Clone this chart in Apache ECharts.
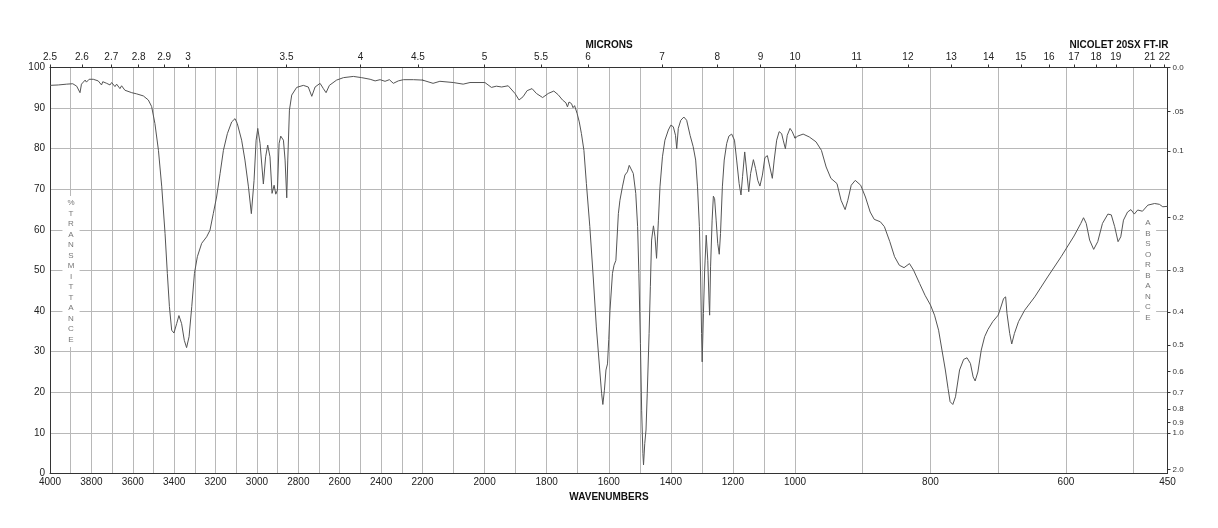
<!DOCTYPE html>
<html>
<head>
<meta charset="utf-8">
<title>FT-IR spectrum</title>
<script src="https://cdn.jsdelivr.net/npm/echarts@6/dist/echarts.min.js"></script>
<style>
  html, body { margin: 0; padding: 0; background: #fff; }
  #chart { width: 1218px; height: 528px; }
</style>
</head>
<body>
<div id="chart"></div>
<script>
// spectrum, 4000 -> 2200 cm-1
const wnHigh = [4000, 3960, 3919, 3890, 3871, 3855, 3848, 3839, 3830, 3824, 3811, 3791, 3767, 3751, 3745, 3726, 3710, 3702, 3686, 3678,
  3662, 3654, 3638, 3630, 3605, 3581, 3549, 3525, 3509, 3493, 3476, 3460, 3444, 3433, 3423, 3412, 3401, 3388, 3377, 3364,
  3351, 3340, 3328, 3315, 3302, 3288, 3267, 3243, 3227, 3211, 3195, 3178, 3162, 3143, 3122, 3106, 3095, 3074, 3058, 3041,
  3027, 3014, 3004, 2996, 2985, 2969, 2958, 2948, 2937, 2927, 2917, 2909, 2901, 2893, 2885, 2872, 2864, 2856, 2851, 2843,
  2832, 2808, 2776, 2752, 2735, 2719, 2695, 2679, 2666, 2650, 2615, 2582, 2534, 2494, 2453, 2429, 2405, 2381, 2360, 2341,
  2317, 2292, 2244, 2200];
const tHigh = [95.6, 95.7, 95.9, 96.0, 95.4, 93.8, 95.9, 96.3, 96.9, 96.4, 97.1, 97.1, 96.7, 95.7, 96.5, 96.1, 95.7, 96.3, 95.3, 95.9,
  94.8, 95.5, 94.4, 94.8, 93.8, 93.5, 93.0, 92.0, 90.4, 86.2, 79.6, 70.6, 59.1, 49.3, 41.1, 35.3, 34.6, 36.9, 38.9, 36.9,
  32.8, 31.0, 33.7, 41.1, 49.3, 53.4, 56.7, 58.3, 59.9, 64.0, 68.1, 73.9, 79.6, 83.7, 86.6, 87.4, 86.2, 82.1, 77.2, 70.6,
  64.0, 72.2, 82.1, 85.0, 81.3, 71.3, 78.0, 80.9, 78.0, 69.0, 71.0, 68.8, 69.8, 81.3, 83.1, 82.1, 77.2, 67.9, 77.2, 89.5,
  93.2, 95.1, 95.6, 95.2, 92.9, 95.2, 96.1, 94.8, 93.8, 95.6, 96.9, 97.5, 97.8, 97.5, 97.1, 96.7, 97.0, 96.6, 97.0, 96.1,
  96.7, 97.0, 97.0, 96.9];

// 2200 -> 1000 cm-1
const wnMid = [2166, 2144, 2101, 2069, 2047, 1999, 1978, 1962, 1945, 1924, 1902, 1889, 1876, 1863, 1847, 1833, 1813, 1795, 1777, 1763,
  1749, 1738, 1733, 1728, 1720, 1715, 1710, 1702, 1695, 1688, 1680, 1672, 1661, 1650, 1640, 1629, 1623, 1619, 1614, 1609,
  1604, 1600, 1596, 1588, 1583, 1577, 1569, 1564, 1556, 1548, 1540, 1534, 1528, 1521, 1513, 1507, 1503, 1498, 1494, 1490,
  1488, 1484, 1480, 1476, 1470, 1466, 1462, 1456, 1451, 1446, 1440, 1435, 1427, 1419, 1408, 1400, 1392, 1385, 1381, 1376,
  1368, 1358, 1349, 1338, 1328, 1320, 1314, 1308, 1304, 1301, 1299, 1295, 1291, 1286, 1281, 1277, 1275, 1272, 1267, 1263,
  1259, 1254, 1249, 1244, 1240, 1234, 1228, 1220, 1213, 1204, 1195, 1188, 1180, 1174, 1169, 1162, 1157, 1149, 1143, 1134,
  1127, 1120, 1113, 1105, 1097, 1089, 1081, 1073, 1067, 1059, 1051, 1043, 1038, 1031, 1025, 1016, 1009, 1000];
const tMid = [96.1, 96.6, 96.3, 95.9, 96.3, 96.3, 95.1, 95.4, 95.2, 95.5, 93.6, 92.0, 92.8, 94.3, 94.8, 93.6, 92.6, 93.6, 94.2, 93.3,
  92.0, 91.3, 90.3, 91.5, 91.1, 90.1, 90.6, 88.7, 86.6, 83.7, 79.6, 71.4, 60.8, 48.4, 36.1, 25.5, 19.7, 17.0, 20.5, 25.5,
  27.0, 33.0, 40.2, 49.3, 51.3, 52.5, 64.0, 67.3, 70.6, 73.5, 74.3, 75.9, 76.2, 73.9, 69.0, 60.8, 49.3, 32.0, 15.6, 4.9,
  2.1, 7.4, 10.7, 19.7, 34.5, 46.0, 57.5, 61.0, 58.3, 53.0, 62.4, 70.6, 78.0, 82.1, 84.6, 85.8, 85.4, 83.3, 80.0, 85.0,
  87.0, 87.8, 87.0, 83.3, 80.5, 77.2, 70.6, 60.8, 48.4, 34.5, 27.5, 39.4, 50.1, 58.7, 52.5, 42.7, 39.0, 50.9, 62.4, 68.3,
  67.7, 62.4, 56.7, 54.0, 59.1, 70.6, 77.2, 81.3, 83.1, 83.6, 82.1, 77.2, 71.4, 68.6, 73.1, 79.2, 75.5, 69.4, 73.9, 77.3,
  75.1, 72.2, 70.8, 73.5, 77.8, 78.3, 75.5, 72.7, 77.2, 82.1, 84.2, 83.7, 82.1, 80.0, 83.3, 85.0, 84.2, 82.6];

// 1000 -> 450 cm-1
const wnLow = [996, 988, 979, 969, 961, 954, 947, 938, 932, 926, 922, 917, 911, 903, 896, 889, 883, 874, 868, 860,
  853, 846, 839, 831, 825, 816, 808, 800, 794, 788, 783, 778, 774, 771, 767, 763, 757, 751, 746, 741,
  737, 734, 730, 725, 720, 715, 708, 700, 695, 692, 689, 687, 683, 680, 676, 670, 661, 646, 627, 607,
  588, 578, 574, 570, 565, 559, 553, 546, 538, 533, 528, 523, 519, 515, 509, 504, 499, 494, 487, 479,
  469, 462, 457, 450];
const tLow = [83.1, 83.6, 82.9, 81.7, 79.6, 75.5, 72.7, 71.4, 67.3, 65.0, 67.3, 71.0, 72.2, 71.0, 68.1, 64.4, 62.6, 62.0, 60.8, 57.1,
  53.4, 51.3, 50.7, 51.7, 50.1, 46.8, 43.9, 41.5, 39.0, 35.3, 30.4, 25.5, 20.9, 17.7, 17.0, 18.9, 25.5, 28.1, 28.5, 27.1,
  23.8, 22.8, 25.0, 30.4, 33.7, 35.5, 37.4, 39.0, 41.5, 43.1, 43.5, 39.4, 34.5, 31.9, 34.5, 37.4, 40.2, 43.5, 48.4, 53.4,
  58.5, 61.6, 63.0, 61.6, 57.5, 55.2, 57.1, 61.6, 63.9, 63.7, 60.8, 57.1, 58.3, 62.4, 64.4, 65.0, 63.9, 64.9, 64.6, 66.1,
  66.5, 66.3, 65.7, 65.8];

// axis tick labels
const wnLabelsHigh = [4000, 3800, 3600, 3400, 3200, 3000, 2800, 2600, 2400, 2200];
const wnLabelsMid = [2000, 1800, 1600, 1400, 1200, 1000];
const wnLabelsLow = [800, 600, 450];
const micronTicks = [2.5, 2.6, 2.7, 2.8, 2.9, 3, 3.5, 4, 4.5, 5, 5.5, 6, 7, 8, 9, 10, 11, 12, 13, 14, 15, 16, 17, 18, 19, 21, 22];
const absTicks = [0, 0.05, 0.1, 0.2, 0.3, 0.4, 0.5, 0.6, 0.7, 0.8, 0.9, 1.0, 2.0];
const absLabels = ['0.0', '.05', '0.1', '0.2', '0.3', '0.4', '0.5', '0.6', '0.7', '0.8', '0.9', '1.0', '2.0'];

const FONT = '"Liberation Sans", Arial, sans-serif';
const AXIS = '#333';
const GRIDLINE = '#b8b8b8';

const wnAll = wnHigh.concat(wnMid, wnLow);
const tAll = tHigh.concat(tMid, tLow);

// the wavenumber scale changes at 2200 and 1000, so three grids side by side
const segs = [
  { lo: 2200, hi: 4000, left: 50, labels: wnLabelsHigh },
  { lo: 1000, hi: 2200, left: 422.5, labels: wnLabelsMid },
  { lo: 450, hi: 1000, left: 795, labels: wnLabelsLow }
];

function inSeg(w, s) { return w >= s.lo && w <= s.hi; }

function segData(s) {
  const out = [];
  for (let i = 0; i < wnAll.length; i++) {
    const keep = inSeg(wnAll[i], s) ||
      (i > 0 && inSeg(wnAll[i - 1], s)) ||
      (i + 1 < wnAll.length && inSeg(wnAll[i + 1], s));
    if (keep) out.push([wnAll[i], tAll[i]]);
  }
  return out;
}

function gridLines(s) {
  const out = [];
  for (let v = Math.ceil(s.lo / 100) * 100; v <= s.hi; v += 100) out.push(v);
  return out;
}

const used = {};
function micronsFor(s) {
  const out = [];
  micronTicks.forEach(m => {
    const w = 10000 / m;
    if (!used[m] && w >= s.lo - 1e-6 && w <= s.hi + 1e-6) { used[m] = true; out.push(w); }
  });
  return out;
}

const absT = absTicks.map(a => 100 * Math.pow(10, -a));

const labelStyle = { fontFamily: FONT, fontSize: 10, color: '#222' };

let grids = [], xAxes = [], yAxes = [], series = [];

segs.forEach((s, i) => {
  grids.push({ left: s.left, top: 67.5, width: 372.5, height: 406, outerBoundsMode: 'none', containLabel: false });
  xAxes.push({
    type: 'value', gridIndex: i, position: 'bottom', inverse: true, min: s.lo, max: s.hi,
    axisLine: { show: true, onZero: false, lineStyle: { color: AXIS, width: 1 } },
    axisTick: { show: false, customValues: gridLines(s) },
    axisLabel: Object.assign({ customValues: s.labels, margin: 4, formatter: v => String(v) }, labelStyle),
    splitLine: { show: true, lineStyle: { color: GRIDLINE, width: 1 } }
  });
});

segs.forEach((s, i) => {
  const mic = micronsFor(s);
  xAxes.push({
    type: 'value', gridIndex: i, position: 'top', inverse: true, min: s.lo, max: s.hi,
    axisLine: { show: true, onZero: false, lineStyle: { color: AXIS, width: 1 } },
    axisTick: { show: true, inside: false, length: 3, customValues: mic, lineStyle: { color: AXIS } },
    axisLabel: Object.assign({ customValues: mic, margin: 5, formatter: v => String(+(10000 / v).toFixed(1)) }, labelStyle),
    splitLine: { show: false }
  });
});

segs.forEach((s, i) => {
  yAxes.push({
    type: 'value', gridIndex: i, position: 'left', min: 0, max: 100, interval: 10,
    axisLine: { show: i === 0, onZero: false, lineStyle: { color: AXIS, width: 1 } },
    axisTick: { show: false },
    axisLabel: Object.assign({ show: i === 0, margin: 5 }, labelStyle),
    splitLine: { show: true, lineStyle: { color: GRIDLINE, width: 1 } }
  });
  series.push({
    type: 'line', xAxisIndex: i, yAxisIndex: i, data: segData(s),
    showSymbol: false, symbol: 'none', clip: true, silent: true, z: 3,
    lineStyle: { color: '#555', width: 1 }
  });
});

yAxes.push({
  type: 'value', gridIndex: 2, position: 'right', min: 0, max: 100,
  axisLine: { show: true, onZero: false, lineStyle: { color: AXIS, width: 1 } },
  axisTick: { show: true, inside: false, length: 3, customValues: absT, lineStyle: { color: AXIS } },
  axisLabel: {
    customValues: absT, margin: 5, fontFamily: FONT, fontSize: 8, color: '#333',
    formatter: v => {
      let best = 0;
      absT.forEach((t, k) => { if (Math.abs(t - v) < Math.abs(absT[best] - v)) best = k; });
      return absLabels[best];
    }
  },
  splitLine: { show: false }
});

function vertText(str, x, y) {
  return {
    type: 'text', x: x, y: y, z: 1,
    style: {
      text: str.split('').join('\n'), font: '8px ' + FONT, fill: '#777', lineHeight: 10.5,
      align: 'center', textAlign: 'center', verticalAlign: 'top', textVerticalAlign: 'top',
      backgroundColor: '#fff', padding: [2, 5]
    }
  };
}

function title(str, x, y) {
  return {
    type: 'text', x: x, y: y, z: 5,
    style: {
      text: str, font: 'bold 10px ' + FONT, fill: '#111',
      align: 'center', textAlign: 'center', verticalAlign: 'middle', textVerticalAlign: 'middle'
    }
  };
}

let myChart = echarts.init(document.getElementById('chart'), null, { renderer: 'canvas' });
let option = {
  animation: false,
  backgroundColor: '#fff',
  grid: grids,
  xAxis: xAxes,
  yAxis: yAxes,
  series: series,
  graphic: [
    title('MICRONS', 609, 45),
    title('WAVENUMBERS', 609, 497),
    title('NICOLET 20SX FT-IR', 1119, 45),
    vertText('%TRANSMITTANCE', 71, 196),
    vertText('ABSORBANCE', 1148, 216)
  ]
};
myChart.setOption(option);
</script>
</body>
</html>
